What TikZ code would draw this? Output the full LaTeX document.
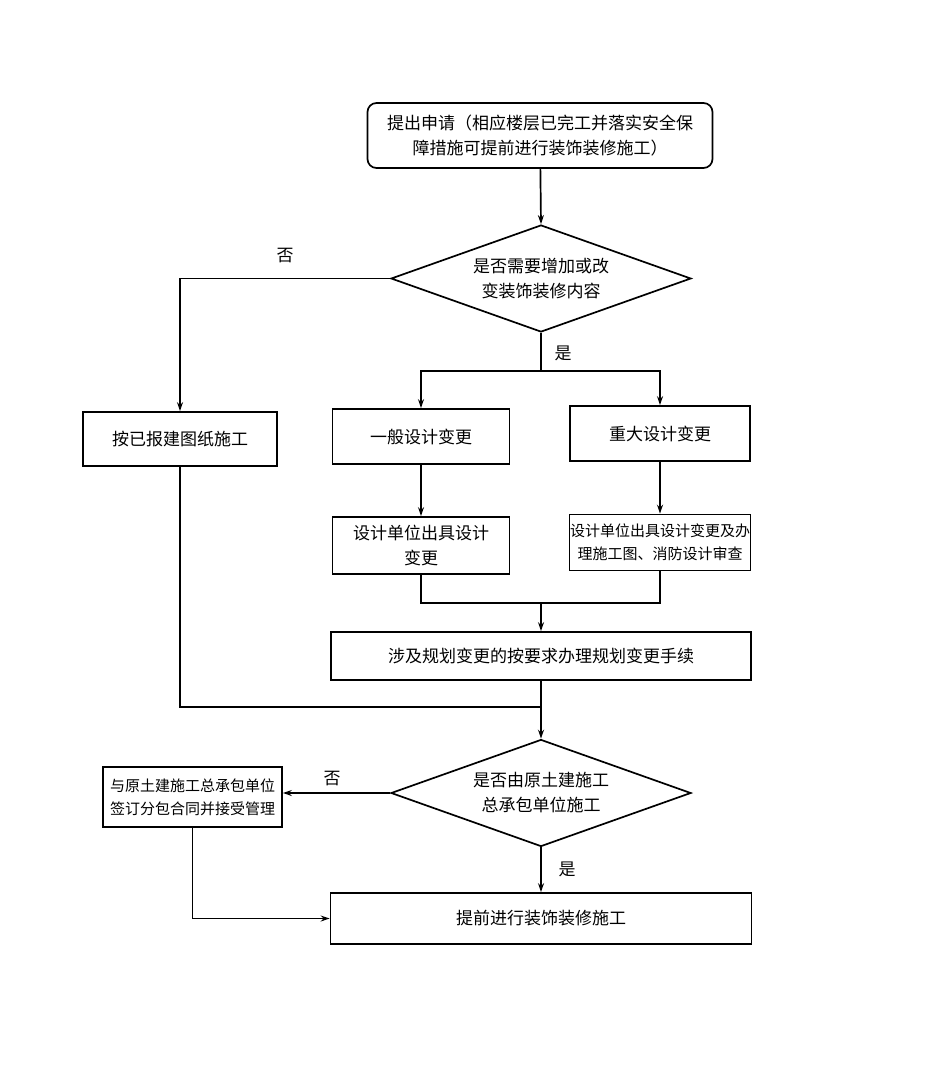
\documentclass[tikz,border=0pt]{standalone}
\usepackage{fontspec}
\setmainfont{Noto Sans CJK SC}
\usetikzlibrary{shapes.geometric,arrows.meta}
\begin{document}
\begin{tikzpicture}[x=1pt,y=-1pt, line width=1.7pt,
  every node/.style={font=\fontsize{17}{25}\selectfont, inner sep=0pt},
  box/.style={draw, rectangle, align=center},
  dec/.style={draw, diamond, aspect=2.8, align=center, minimum width=300pt, minimum height=107pt},
  arr/.style={-{Stealth[length=9pt,width=6pt]}},
  small/.style={font=\fontsize{15}{23}\selectfont}]
\useasboundingbox (0,0) rectangle (927,1077);
\fill[white] (0,0) rectangle (927,1077);

\node[box, rounded corners=9pt, minimum width=345pt, minimum height=65pt] (top) at (540,135.5)
  {提出申请（相应楼层已完工并落实安全保\\障措施可提前进行装饰装修施工）};
\node[dec] (d1) at (541,278.5) {是否需要增加或改\\变装饰装修内容};
\node[box, minimum width=194pt, minimum height=54pt] (bleft) at (180,439) {按已报建图纸施工};
\node[box, minimum width=177pt, minimum height=55pt] (g1) at (421,436.5) {一般设计变更};
\node[box, minimum width=180pt, minimum height=55pt] (g2) at (660,433.5) {重大设计变更};
\node[box, minimum width=177pt, minimum height=57pt] (g1b) at (421,545.5) {设计单位出具设计\\变更};
\node[box, small, minimum width=181pt, minimum height=56pt] (g2b) at (660,542.5) {设计单位出具设计变更及办\\理施工图、消防设计审查};
\node[box, minimum width=420pt, minimum height=48pt] (plan) at (541,656) {涉及规划变更的按要求办理规划变更手续};
\node[dec] (d2) at (541,793) {是否由原土建施工\\总承包单位施工};
\node[box, small, minimum width=179pt, minimum height=60pt] (sub) at (192.5,797) {与原土建施工总承包单位\\签订分包合同并接受管理};
\node[box, minimum width=421pt, minimum height=51pt] (final) at (541,918.5) {提前进行装饰装修施工};

\node (l1) at (285,256) {否};
\node (l2) at (563,353) {是};
\node (l3) at (332,779) {否};
\node (l4) at (567,869) {是};

\coordinate (split1) at (541,371);
\coordinate (merge) at (541,603);
\coordinate (merge2) at (541,707);

\draw[arr] (top) -- (d1.north);
\draw[arr] (d1.west) -| (bleft.north);
\draw (d1.south) -- (split1);
\draw[arr] (split1) -| (g1.north);
\draw[arr] (split1) -| (g2.north);
\draw[arr] (g1) -- (g1b);
\draw[arr] (g2) -- (g2b);
\draw (g1b.south) |- (merge);
\draw (g2b.south) |- (merge);
\draw[arr] (merge) -- (plan.north);
\draw (bleft.south) |- (merge2);
\draw (plan.south) -- (merge2);
\draw[arr] (merge2) -- (d2.north);
\draw[arr] (d2.west) -- (d2.west -| sub.east);
\draw[arr] (d2.south) -- (final.north);
\draw[arr] (sub.south) |- (final.west);
\end{tikzpicture}
\end{document}
